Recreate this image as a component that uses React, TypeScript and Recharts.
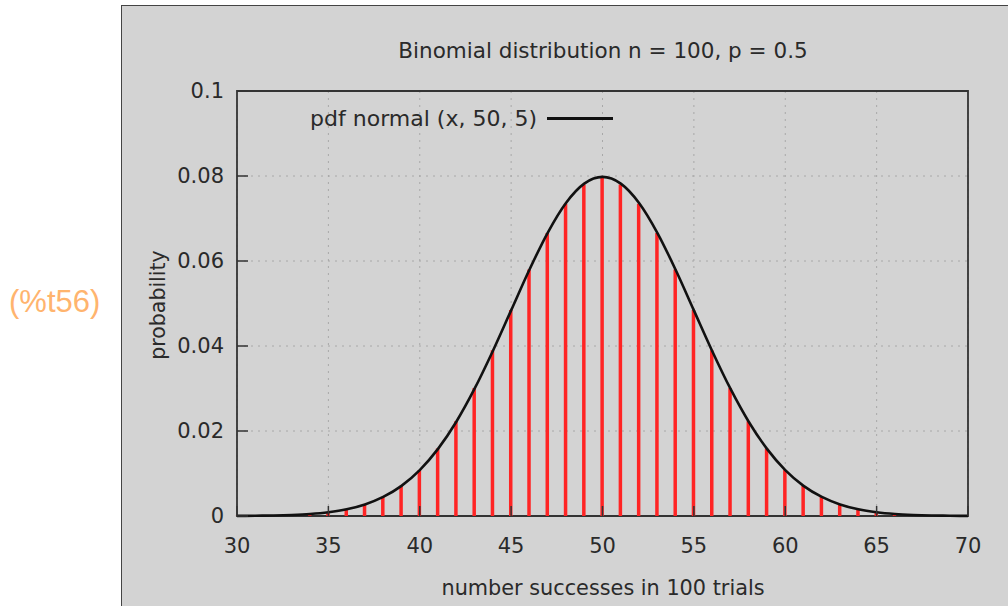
import { ComposedChart, Bar, Line, XAxis, YAxis, CartesianGrid, ReferenceArea } from 'recharts';

const successes = [30, 31, 32, 33, 34, 35, 36, 37, 38, 39, 40, 41, 42, 43, 44, 45, 46, 47, 48, 49, 50,
  51, 52, 53, 54, 55, 56, 57, 58, 59, 60, 61, 62, 63, 64, 65, 66, 67, 68, 69, 70];

// binomial probabilities (impulses)
const binomial = [0.00002, 0.00005, 0.0001, 0.0002, 0.0005, 0.0009, 0.0016, 0.0027, 0.0045, 0.0071, 0.0108,
  0.0159, 0.0223, 0.0301, 0.039, 0.0485, 0.058, 0.0666, 0.0735, 0.078, 0.0796,
  0.078, 0.0735, 0.0666, 0.058, 0.0485, 0.039, 0.0301, 0.0223, 0.0159, 0.0108,
  0.0071, 0.0045, 0.0027, 0.0016, 0.0009, 0.0005, 0.0002, 0.0001, 0.00005, 0.00002];

// normal curve pdf(x, 50, 5)
const normal = [0.00003, 0.00006, 0.00012, 0.00025, 0.00048, 0.00089, 0.00158, 0.00272, 0.00448, 0.00709, 0.0108,
  0.01579, 0.02218, 0.02995, 0.03884, 0.04839, 0.05794, 0.06664, 0.07366, 0.07821, 0.07979,
  0.07821, 0.07366, 0.06664, 0.05794, 0.04839, 0.03884, 0.02995, 0.02218, 0.01579, 0.0108,
  0.00709, 0.00448, 0.00272, 0.00158, 0.00089, 0.00048, 0.00025, 0.00012, 0.00006, 0.00003];

const xTicks = [30, 35, 40, 45, 50, 55, 60, 65, 70];
const yTicks = [0, 0.02, 0.04, 0.06, 0.08, 0.1];

const data = successes.map((x, i) => ({ x, pmf: binomial[i], pdf: normal[i] }));

const FONT = 'DejaVu Sans, sans-serif';
const TEXT = '#2a2a2a';
const PLOT_LEFT = 237;
const PLOT_BOTTOM = 516;

const YTick = ({ x, y, payload }: any) => (
  <g>
    <line x1={PLOT_LEFT} x2={PLOT_LEFT + 11} y1={y} y2={y} stroke="#333" strokeWidth={1.5} />
    <text x={x} y={y} dy="0.35em" textAnchor="end" fill={TEXT} fontSize={21} fontFamily={FONT}>
      {payload.value}
    </text>
  </g>
);

const XTick = ({ x, payload }: any) => (
  <g>
    <line x1={x} x2={x} y1={PLOT_BOTTOM} y2={PLOT_BOTTOM - 10} stroke="#333" strokeWidth={1.5} />
    <text x={x} y={PLOT_BOTTOM + 30} dy="0.35em" textAnchor="middle" fill={TEXT} fontSize={21} fontFamily={FONT}>
      {payload.value}
    </text>
  </g>
);

const label = (left: number, top: number, size: number, extra: string = ''): any => ({
  position: 'absolute', left, top, transform: `translate(-50%, -50%)${extra}`,
  fontFamily: FONT, fontSize: size, color: TEXT, whiteSpace: 'nowrap',
});

export default function App() {
  return (
    <div style={{ position: 'absolute', left: 0, top: 0, width: 1008, height: 606, background: '#fff', overflow: 'hidden' }}>
      <div style={{ position: 'absolute', left: 9, top: 284, fontFamily: 'Liberation Sans, sans-serif', fontSize: 31, color: '#ffb46e' }}>
        (%t56)
      </div>
      <div style={{ position: 'absolute', left: 121, top: 5, width: 900, height: 620, background: '#d3d3d3', borderLeft: '1px solid #444', borderTop: '1px solid #444' }} />
      <div style={{ position: 'absolute', left: 0, top: 0 }}>
        <ComposedChart width={1008} height={606} data={data} margin={{ top: 91, right: 40, bottom: 60, left: 137 }}>
          <CartesianGrid stroke="#a8a8a8" strokeDasharray="2 5" strokeWidth={1} />
          <XAxis type="number" dataKey="x" domain={[30, 70]} ticks={xTicks} height={30} axisLine={false} tickLine={false} tickSize={0} tick={<XTick />} interval={0} />
          <YAxis type="number" domain={[0, 0.1]} ticks={yTicks} width={100} axisLine={false} tickLine={false} tickSize={0} tickMargin={13} tick={<YTick />} interval={0} />
          <Bar dataKey="pmf" fill="#ff2424" barSize={3.5} isAnimationActive={false} />
          <Line type="monotone" dataKey="pdf" stroke="#111" strokeWidth={2.6} dot={false} isAnimationActive={false} />
          <ReferenceArea x1={30} x2={70} y1={0} y2={0.1} fill="none" stroke="#333" strokeWidth={1.8} ifOverflow="visible" />
        </ComposedChart>
      </div>
      {/* key */}
      <div style={{ position: 'absolute', right: 1008 - 537, top: 118, transform: 'translateY(-50%)', fontFamily: FONT, fontSize: 22, color: TEXT, whiteSpace: 'nowrap' }}>
        pdf normal (x, 50, 5)
      </div>
      <div style={{ position: 'absolute', left: 547, top: 117, width: 66, height: 0, borderTop: '3px solid #111' }} />
      <div style={label(603, 50, 21.5)}>Binomial distribution n = 100, p = 0.5</div>
      <div style={label(603, 588, 20.8)}>number successes in 100 trials</div>
      <div style={label(158, 305, 20.5, ' rotate(-90deg)')}>probability</div>
    </div>
  );
}
